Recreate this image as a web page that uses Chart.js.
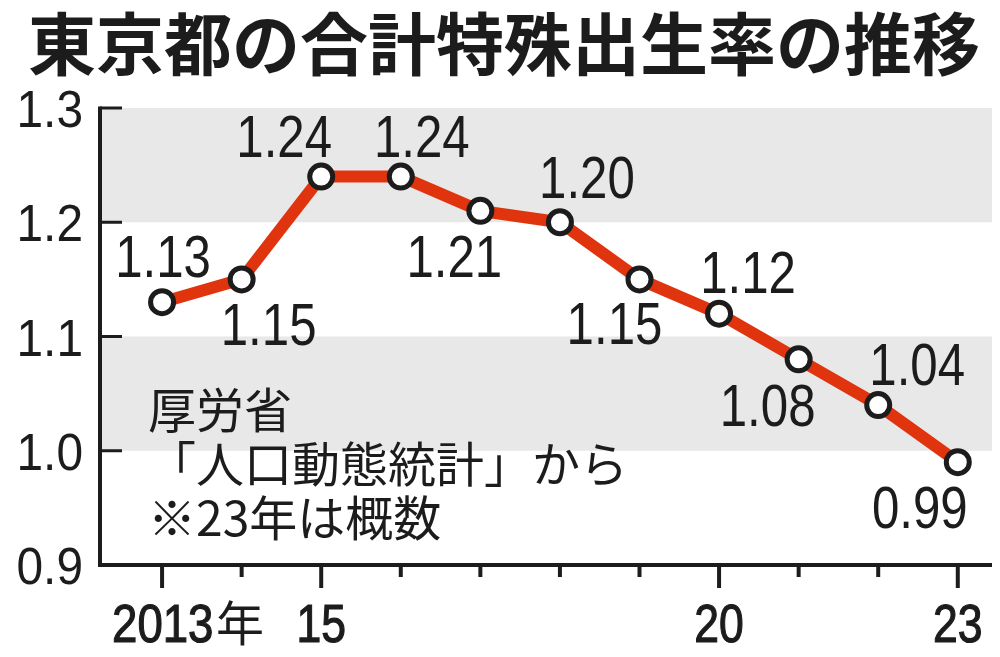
<!DOCTYPE html>
<html>
<head>
<meta charset="utf-8">
<script src="https://cdn.jsdelivr.net/npm/chart.js@4/dist/chart.umd.min.js"></script>
<style>
  html, body { margin: 0; padding: 0; background: #fff; }
  canvas { display: block; }
</style>
</head>
<body>
<canvas id="myChart" width="1000" height="657"></canvas>
<script>
// Data
const years = [2013, 2014, 2015, 2016, 2017, 2018, 2019, 2020, 2021, 2022, 2023];
const rates = [1.13, 1.15, 1.24, 1.24, 1.21, 1.20, 1.15, 1.12, 1.08, 1.04, 0.99];
const rateLabels = ['1.13', '1.15', '1.24', '1.24', '1.21', '1.20', '1.15', '1.12', '1.08', '1.04', '0.99'];
const yTicks = [0.9, 1.0, 1.1, 1.2, 1.3];
const yTickLabels = ['0.9', '1.0', '1.1', '1.2', '1.3'];
const xTickLabels = {2013: '2013', 2015: '15', 2020: '20', 2023: '23'};
const bands = [[1.0, 1.1], [1.2, 1.3]];

const titleText = '東京都の合計特殊出生率の推移';
const noteLines = ['厚労省', '「人口動態統計」から', '※23年は概数'];

// where each value label sits relative to its point (text centre, px)
const labelOffsets = [[1, -46], [27, 45], [-37, -41], [21, -41], [-26, 45], [27, -45],
                      [-25, 44], [29, -42], [-31, 46], [39, -41], [-38, 45]];

const INK = '#1c1c1c';
const SANS = '"Liberation Sans", Arial, sans-serif';
const CJK = '"Noto Sans CJK JP", sans-serif';

// text squeezed horizontally, to look like a condensed face
function narrowText(ctx, text, x, y, sx, bold) {
    ctx.save();
    ctx.translate(x, y);
    ctx.scale(sx, 1);
    ctx.fillText(text, 0, 0);
    if (bold) {
        ctx.lineWidth = bold;
        ctx.strokeStyle = ctx.fillStyle;
        ctx.strokeText(text, 0, 0);
    }
    ctx.restore();
}

// Draws the frame, bands, ticks and texts around the line
const framePlugin = {
    id: 'frame',
    beforeDatasetsDraw(chart) {
        const ctx = chart.ctx;
        const area = chart.chartArea;
        const xs = chart.scales.x;
        const ys = chart.scales.y;
        ctx.save();

        // 1. grey bands
        ctx.fillStyle = '#e8e8e8';
        bands.forEach(function (b) {
            const top = ys.getPixelForValue(b[1]);
            const bot = ys.getPixelForValue(b[0]);
            ctx.fillRect(area.left, top, area.right - area.left, bot - top);
        });

        // 2. axes
        ctx.strokeStyle = INK;
        ctx.lineWidth = 4;
        ctx.beginPath();
        ctx.moveTo(area.left, area.top - 1.5);
        ctx.lineTo(area.left, area.bottom);
        ctx.lineTo(area.right, area.bottom);
        ctx.stroke();

        // 3. y ticks (pointing inward) and labels
        ctx.lineWidth = 3;
        ctx.fillStyle = INK;
        ctx.font = '52px ' + SANS;
        ctx.textAlign = 'right';
        ctx.textBaseline = 'alphabetic';
        yTicks.forEach(function (v, i) {
            const y = ys.getPixelForValue(v);
            ctx.beginPath();
            ctx.moveTo(area.left, y);
            ctx.lineTo(area.left + 22, y);
            ctx.stroke();
            narrowText(ctx, yTickLabels[i], 83, y + 19, 0.92);
        });

        // 4. x ticks (long at labelled years) and labels
        ctx.lineWidth = 4;
        ctx.font = '53px ' + SANS;
        years.forEach(function (yr) {
            const x = xs.getPixelForValue(yr);
            const label = xTickLabels[yr];
            ctx.beginPath();
            ctx.moveTo(x, area.bottom);
            ctx.lineTo(x, area.bottom + (label ? 23 : 12));
            ctx.stroke();
            if (label) {
                if (yr === 2013) {
                    ctx.textAlign = 'left';
                    narrowText(ctx, label, x - 50, 642, 0.86, 1.2);
                    ctx.font = '48px ' + CJK;
                    ctx.fillText('年', x + 54, 641);
                    ctx.font = '53px ' + SANS;
                } else {
                    ctx.textAlign = 'center';
                    narrowText(ctx, label, x, 642, 0.84, 1.2);
                }
            }
        });

        // 5. title
        ctx.textAlign = 'left';
        ctx.textBaseline = 'middle';
        ctx.font = 'bold 68px ' + CJK;
        ctx.fillText(titleText, 28, 44);

        // 6. source note
        ctx.font = '48px ' + CJK;
        noteLines.forEach(function (t, i) {
            ctx.fillText(t, 148, 410 + i * 54);
        });
        ctx.restore();
    },
    afterDatasetsDraw(chart) {
        const ctx = chart.ctx;
        const meta = chart.getDatasetMeta(0);
        ctx.save();
        ctx.fillStyle = INK;
        ctx.font = '60px ' + SANS;
        ctx.textAlign = 'center';
        ctx.textBaseline = 'alphabetic';
        meta.data.forEach(function (pt, i) {
            const off = labelOffsets[i];
            narrowText(ctx, rateLabels[i], pt.x + off[0], pt.y + off[1] + 21, 0.82);
        });
        ctx.restore();
    }
};

const ctx = document.getElementById('myChart').getContext('2d');
new Chart(ctx, {
    type: 'line',
    data: {
        datasets: [{
            data: years.map(function (yr, i) { return {x: yr, y: rates[i]}; }),
            borderColor: '#e0340f',
            borderWidth: 12,
            pointRadius: 11.5,
            pointBorderWidth: 5,
            pointBackgroundColor: '#fff',
            pointBorderColor: INK,
            tension: 0,
            clip: false
        }]
    },
    options: {
        responsive: false,
        animation: false,
        layout: { autoPadding: false, padding: { left: 100, right: 8, top: 108, bottom: 92 } },
        scales: {
            x: { type: 'linear', min: 2012.22, max: 2023.43, display: false },
            y: { min: 0.9, max: 1.3, display: false }
        },
        plugins: { legend: { display: false }, tooltip: { enabled: false } }
    },
    plugins: [framePlugin]
});
</script>
</body>
</html>
